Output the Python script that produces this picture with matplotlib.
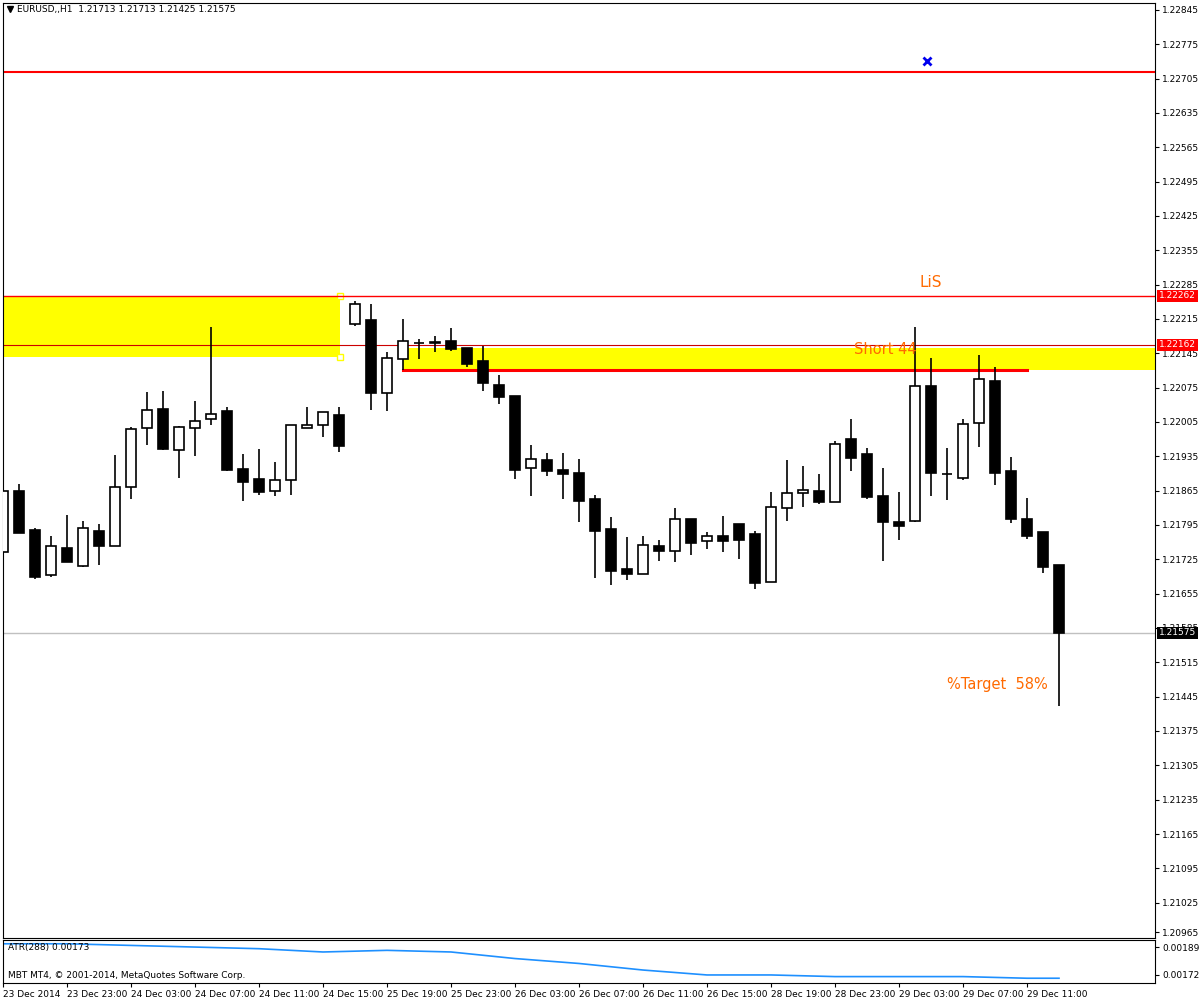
import matplotlib
matplotlib.use("Agg")
import matplotlib.pyplot as plt
from matplotlib.patches import Rectangle
import numpy as np

plt.rcParams['font.family'] = ['DejaVu Sans']

opens = [1.21739,1.21865,1.21784,1.21692,1.21747,1.21712,1.21782,1.21753,1.21872,1.21992,
         1.22031,1.21947,1.21992,1.22010,1.22027,1.21910,1.21888,1.21865,1.21886,1.21992,
         1.21998,1.22020,1.22204,1.22212,1.22065,1.22133,1.22165,1.22165,1.22171,1.22155,
         1.22129,1.22080,1.22057,1.21912,1.21927,1.21908,1.21900,1.21847,1.21786,1.21706,
         1.21696,1.21753,1.21741,1.21808,1.21763,1.21772,1.21796,1.21776,1.21678,1.21829,
         1.21861,1.21865,1.21841,1.21971,1.21939,1.21853,1.21800,1.21804,1.22078,1.21898,
         1.21890,1.22002,1.22088,1.21904,1.21808,1.21780,1.21713]
highs = [1.21878,1.21878,1.21788,1.21772,1.21816,1.21804,1.21796,1.21937,1.21994,1.22067,
         1.22069,1.21996,1.22047,1.22198,1.22035,1.21939,1.21949,1.21923,1.21998,1.22035,
         1.22025,1.22035,1.22251,1.22245,1.22147,1.22214,1.22175,1.22180,1.22196,1.22155,
         1.22159,1.22100,1.22057,1.21957,1.21941,1.21941,1.21929,1.21857,1.21812,1.21770,
         1.21772,1.21765,1.21829,1.21808,1.21780,1.21814,1.21796,1.21782,1.21863,1.21927,
         1.21916,1.21898,1.21967,1.22010,1.21951,1.21912,1.21863,1.22198,1.22135,1.21951,
         1.22012,1.22141,1.22116,1.21933,1.21849,1.21780,1.21713]
lows = [1.21733,1.21778,1.21684,1.21688,1.21719,1.21710,1.21714,1.21753,1.21847,1.21957,
        1.21947,1.21890,1.21935,1.21998,1.21904,1.21843,1.21857,1.21855,1.21857,1.21992,
        1.21974,1.21943,1.22200,1.22029,1.22027,1.22110,1.22133,1.22147,1.22149,1.22118,
        1.22069,1.22041,1.21888,1.21853,1.21894,1.21847,1.21802,1.21686,1.21672,1.21682,
        1.21696,1.21721,1.21719,1.21733,1.21745,1.21739,1.21725,1.21665,1.21678,1.21804,
        1.21831,1.21837,1.21841,1.21904,1.21847,1.21721,1.21765,1.21800,1.21853,1.21845,
        1.21886,1.21953,1.21876,1.21798,1.21767,1.21698,1.21425]
closes = [1.21865,1.21778,1.21688,1.21753,1.21719,1.21788,1.21753,1.21872,1.21990,1.22029,
          1.21949,1.21994,1.22006,1.22022,1.21908,1.21882,1.21863,1.21886,1.21998,1.21998,
          1.22025,1.21955,1.22245,1.22063,1.22135,1.22169,1.22165,1.22167,1.22153,1.22124,
          1.22084,1.22055,1.21908,1.21929,1.21906,1.21898,1.21843,1.21782,1.21702,1.21694,
          1.21755,1.21741,1.21808,1.21759,1.21772,1.21763,1.21765,1.21676,1.21831,1.21861,
          1.21867,1.21841,1.21961,1.21931,1.21851,1.21802,1.21792,1.22078,1.21900,1.21898,
          1.22000,1.22092,1.21900,1.21808,1.21772,1.21710,1.21575]

price_ticks = [1.22845,1.22775,1.22705,1.22635,1.22565,1.22495,1.22425,1.22355,1.22285,
               1.22215,1.22145,1.22075,1.22005,1.21935,1.21865,1.21795,1.21725,1.21655,
               1.21585,1.21515,1.21445,1.21375,1.21305,1.21235,1.21165,1.21095,1.21025,1.20965]
date_labels = ["23 Dec 2014","23 Dec 23:00","24 Dec 03:00","24 Dec 07:00","24 Dec 11:00",
               "24 Dec 15:00","25 Dec 19:00","25 Dec 23:00","26 Dec 03:00","26 Dec 07:00",
               "26 Dec 11:00","26 Dec 15:00","28 Dec 19:00","28 Dec 23:00","29 Dec 03:00",
               "29 Dec 07:00","29 Dec 11:00"]
atr_idx = [0,4,8,12,16,20,24,28,32,36,40,44,48,52,56,60,64,66]
atr_vals = [0.00191,0.00191,0.00190,0.00189,0.00188,0.00186,0.00187,0.00186,0.00182,0.00179,
            0.00175,0.00172,0.00172,0.00171,0.00171,0.00171,0.00170,0.00170]

level_top = 1.22718
lis_level = 1.22262
mid_level = 1.22162
zone1_low = 1.22137
zone2_top = 1.22155
zone2_low = 1.22110
last_price = 1.21575
marker_price = 1.22741

W, H = 1200, 1000
fig = plt.figure(figsize=(12, 10), dpi=100)
fig.patch.set_facecolor('white')
ax = fig.add_axes([3/W, 1-938/H, 1152/W, 935/H])
ax.set_xlim(0, 72)
ax.set_ylim(1.20953, 1.22859)

n = len(opens)
x = np.arange(n)
bw = 0.62
ax.add_patch(Rectangle((0, zone1_low), 21.06, lis_level - zone1_low, facecolor='#ffff00', edgecolor='none', zorder=1))
ax.add_patch(Rectangle((25, zone2_low), 47, zone2_top - zone2_low, facecolor='#ffff00', edgecolor='none', zorder=1))
for yy in (lis_level, zone1_low):
    ax.plot([21.06], [yy], marker='s', ms=4, mfc='white', mec='#ffff00', mew=1, zorder=2)
ax.axhline(level_top, color='red', lw=1.5, zorder=2)
ax.axhline(lis_level, color='red', lw=1, zorder=2)
ax.axhline(mid_level, color='#cc0000', lw=0.8, zorder=2)
ax.plot([25, 64], [zone2_low, zone2_low], color='red', lw=2.2, zorder=2)
ax.axhline(last_price, color='#c0c0c0', lw=1, zorder=2)

for i in range(n):
    o, h, l, c = opens[i], highs[i], lows[i], closes[i]
    ax.vlines(x[i], l, h, color='black', lw=1.2, zorder=3)
    bull = c >= o
    lo, hi = min(o, c), max(o, c)
    hgt = max(hi - lo, 0.000012)
    ax.add_patch(Rectangle((x[i] - bw/2, lo), bw, hgt, facecolor='white' if bull else 'black',
                           edgecolor='black', lw=1.2, zorder=4))

ax.plot([57.75], [marker_price], marker='x', color='#0000ee', ms=6, mew=2, zorder=5)
ax.text(57.3, lis_level + 0.00012, "LiS", color='#ff6a00', fontsize=11, ha='left', va='bottom', zorder=6)
ax.text(53.2, zone2_top - 0.00002, "Short 44", color='#ff6a00', fontsize=10.5, ha='left', va='center', zorder=6)
ax.text(59, 1.2147, "%Target  58%", color='#ff6a00', fontsize=10.5, ha='left', va='center', zorder=6)

ax.yaxis.tick_right()
ax.set_yticks(price_ticks)
ax.set_yticklabels([f"{p:.5f}" for p in price_ticks], fontsize=6.5)
ax.tick_params(axis='y', length=3, pad=2)
ax.set_xticks([])

for val, bg in ((lis_level, '#ff0000'), (mid_level, '#ff0000'), (last_price, 'black')):
    ax.text(1.0035, val, f"{val:.5f}", transform=ax.get_yaxis_transform(), fontsize=6.5,
            color='white', va='center', ha='left',
            bbox=dict(boxstyle='square,pad=0.2', facecolor=bg, edgecolor='none'), zorder=7)

ax.plot([0.006], [0.9935], transform=ax.transAxes, marker='v', color='black', ms=4)
ax.text(0.012, 0.9935, "EURUSD,,H1  1.21713 1.21713 1.21425 1.21575", transform=ax.transAxes,
        fontsize=6.5, va='center', ha='left')

ax2 = fig.add_axes([3/W, 1-983/H, 1152/W, 43/H])
ax2.set_xlim(0, 72)
ax2.set_ylim(0.001671, 0.001933)
ax2.plot(atr_idx, atr_vals, color='#1e90ff', lw=1.2)
ax2.yaxis.tick_right()
ax2.set_yticks([0.00189, 0.00172])
ax2.set_yticklabels(["0.00189", "0.00172"], fontsize=6.5)
ax2.tick_params(axis='y', length=3, pad=2)
ax2.text(0.004, 0.82, "ATR(288) 0.00173", transform=ax2.transAxes, fontsize=6.5, va='center')
ax2.text(0.004, 0.18, "MBT MT4, \u00a9 2001-2014, MetaQuotes Software Corp.", transform=ax2.transAxes,
         fontsize=6.5, va='center')
ax2.set_xticks(np.arange(len(date_labels)) * 4)
ax2.set_xticklabels(date_labels, fontsize=6.5, ha='left')
ax2.tick_params(axis='x', length=3, pad=2)

fig.savefig("out.png", dpi=100, facecolor='white')
